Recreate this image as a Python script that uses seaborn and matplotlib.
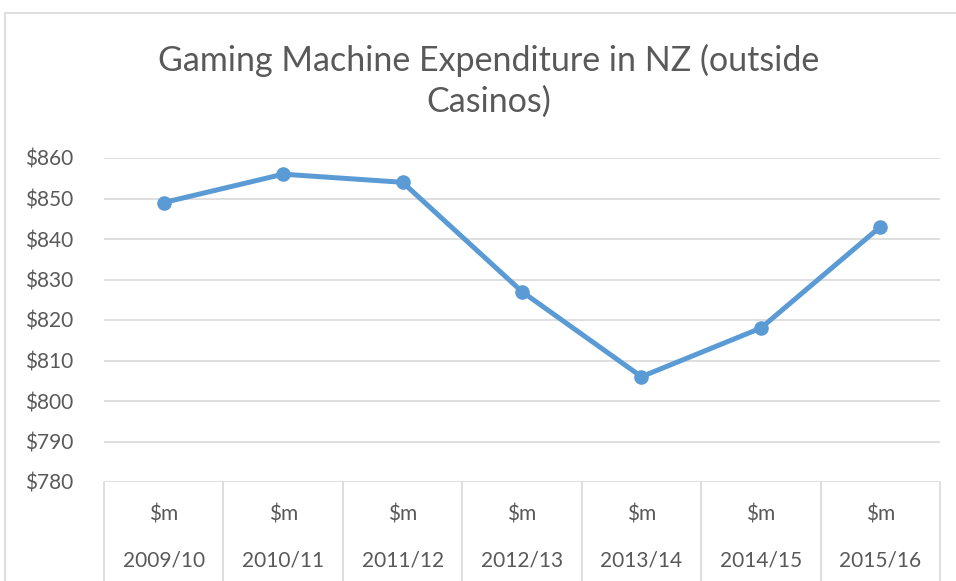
import pandas as pd
import seaborn as sns
import matplotlib.pyplot as plt
from matplotlib.patches import Rectangle
from matplotlib.transforms import blended_transform_factory

years = ['2009/10', '2010/11', '2011/12', '2012/13', '2013/14', '2014/15', '2015/16']
units = ['$m'] * 7
spend = [849, 856, 854, 827, 806, 818, 843]
y_ticks = [780, 790, 800, 810, 820, 830, 840, 850, 860]

df = pd.DataFrame({'year': years, 'spend': spend})

sns.set_theme(style='white')
plt.rcParams['font.family'] = ['Lato', 'DejaVu Sans']
grey = '#595959'
line_grey = '#d9d9d9'

fig = plt.figure(figsize=(9.56, 5.81), dpi=100)
ax = fig.add_axes([104 / 956, 1 - 482 / 581, (940 - 104) / 956, (482 - 158) / 581])

sns.lineplot(data=df, x='year', y='spend', ax=ax, color='#5b9bd5',
             linewidth=3.6, marker='o', markersize=10.5, markeredgewidth=0)

ax.set_ylim(780, 860)
ax.set_xlim(-0.5, len(years) - 0.5)
ax.set_yticks(y_ticks)
ax.set_yticklabels([f'${v}' for v in y_ticks], color=grey, fontsize=15)
ax.set_xticks([])
ax.set_xlabel('')
ax.set_ylabel('')
ax.tick_params(axis='y', length=0, pad=22)
for s in ax.spines.values():
    s.set_visible(False)
for v in y_ticks:
    ax.axhline(v, color=line_grey, linewidth=1.2, zorder=0)

# category axis: two label rows with separators
trans = blended_transform_factory(ax.transData, ax.transAxes)
for i in range(len(years) + 1):
    ax.plot([i - 0.5, i - 0.5], [0, -0.31], color=line_grey, linewidth=1.2,
            transform=trans, clip_on=False)
for i, (u, yr) in enumerate(zip(units, years)):
    ax.text(i, -0.1, u, transform=trans, ha='center', va='center',
            color=grey, fontsize=15)
    ax.text(i, -0.242, yr, transform=trans, ha='center', va='center',
            color=grey, fontsize=15)

fig.text(489 / 956, 1 - 81 / 581, 'Gaming Machine Expenditure in NZ (outside\nCasinos)',
         ha='center', va='center', color=grey, fontsize=24.5, linespacing=1.32)

fig.patches.append(Rectangle((5 / 956, -0.05), 1.0, 1.05 - 13 / 581,
                             transform=fig.transFigure, fill=False,
                             edgecolor=line_grey, linewidth=1.2))

fig.savefig('out.png', dpi=100)
